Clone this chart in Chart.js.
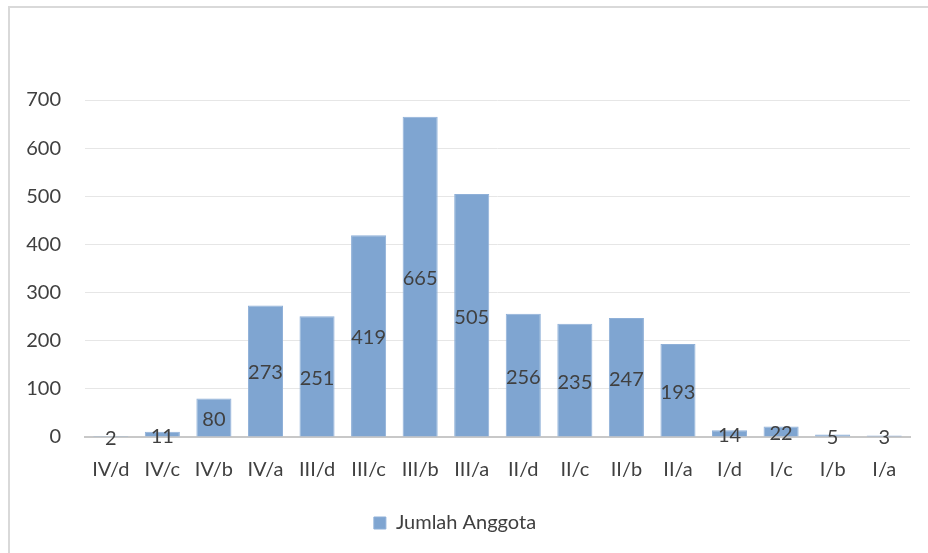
<!DOCTYPE html>
<html lang="id">
<head>
  <meta charset="UTF-8">
  <title>Jumlah Anggota</title>
  <script src="https://cdn.jsdelivr.net/npm/chart.js"></script>
  <style>
    html, body { margin: 0; padding: 0; background: #fff; }
    .frame {
      position: absolute; left: 8px; top: 6px; width: 940px; height: 560px;
      border-left: 2px solid #d9d9d9; border-top: 2px solid #d9d9d9;
    }
    #chart { position: absolute; left: 0; top: 0; }
  </style>
</head>
<body>
  <div class="frame"></div>
  <canvas id="chart" width="928" height="553"></canvas>

  <script>
    const categories = ['IV/d', 'IV/c', 'IV/b', 'IV/a', 'III/d', 'III/c', 'III/b', 'III/a',
                        'II/d', 'II/c', 'II/b', 'II/a', 'I/d', 'I/c', 'I/b', 'I/a'];
    const jumlahAnggota = [2, 11, 80, 273, 251, 419, 665, 505, 256, 235, 247, 193, 14, 22, 5, 3];
    const seriesName = 'Jumlah Anggota';

    const textColor = '#404040';
    const fontFamily = 'Lato, "Noto Sans", sans-serif';

    // Excel style value labels in the middle of each bar
    const centerLabels = {
      id: 'centerLabels',
      afterDatasetsDraw(chart) {
        const ctx = chart.ctx;
        const meta = chart.getDatasetMeta(0);
        ctx.save();
        ctx.font = '20px ' + fontFamily;
        ctx.fillStyle = textColor;
        ctx.textAlign = 'center';
        ctx.textBaseline = 'middle';
        meta.data.forEach((bar, i) => {
          const y = (bar.y + bar.base) / 2;
          ctx.fillText(String(jumlahAnggota[i]), bar.x, y + 2);
        });
        ctx.restore();
      }
    };

    new Chart(document.getElementById('chart'), {
      type: 'bar',
      data: {
        labels: categories,
        datasets: [{
          label: seriesName,
          data: jumlahAnggota,
          backgroundColor: '#7fa5d1',
          borderColor: '#8fb0d8',
          borderWidth: 1,
          categoryPercentage: 1,
          barPercentage: 0.68
        }]
      },
      options: {
        responsive: false,
        animation: false,
        layout: { padding: { top: 100, right: 18, left: 0, bottom: 10 } },
        plugins: {
          tooltip: { enabled: false },
          legend: {
            position: 'bottom',
            labels: {
              color: textColor,
              font: { family: fontFamily, size: 20 },
              boxWidth: 12,
              boxHeight: 12,
              padding: 10
            }
          }
        },
        scales: {
          x: {
            grid: { display: false, drawTicks: false },
            border: { color: '#c8c8c8', width: 2 },
            ticks: {
              color: textColor,
              font: { family: fontFamily, size: 20 },
              padding: 21,
              maxRotation: 0,
              autoSkip: false
            },
            afterFit(scale) { scale.height = 66; }
          },
          y: {
            min: 0,
            max: 700,
            ticks: {
              stepSize: 100,
              color: textColor,
              font: { family: fontFamily, size: 20 },
              padding: 24
            },
            grid: { color: '#e6e6e6', drawTicks: false },
            border: { display: false },
            afterFit(scale) { scale.width = 85; }
          }
        }
      },
      plugins: [centerLabels]
    });
  </script>
</body>
</html>
